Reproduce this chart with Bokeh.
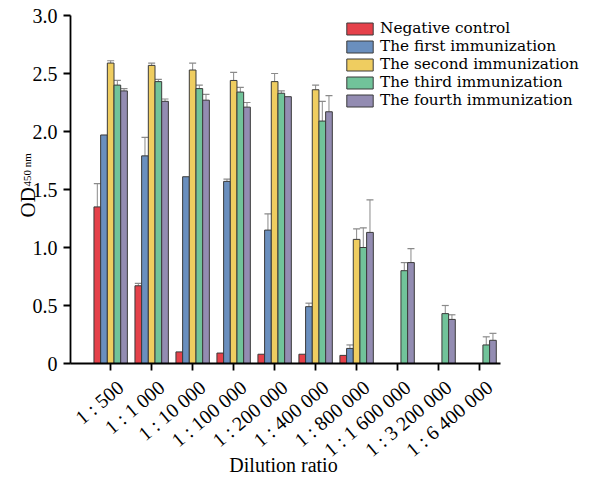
import math
import numpy as np
from bokeh.plotting import figure
from bokeh.models import (ColumnDataSource, Whisker, TeeHead, Legend, LegendItem,
                          Label, FixedTicker)
from bokeh.embed import file_html
from bokeh.resources import INLINE

# ---- data ----
dilutions = ["1 : 500", "1 : 1 000", "1 : 10 000", "1 : 100 000", "1 : 200 000",
             "1 : 400 000", "1 : 800 000", "1 : 1 600 000", "1 : 3 200 000", "1 : 6 400 000"]
series_names = ["Negative control", "The first immunization", "The second immunization",
                "The third immunization", "The fourth immunization"]
colors = ["#E5414A", "#6A8FBE", "#EFCD60", "#71C39A", "#938CB2"]

negative = [1.35, 0.67, 0.10, 0.09, 0.08, 0.08, 0.07, None, None, None]
first = [1.97, 1.79, 1.61, 1.57, 1.15, 0.49, 0.13, None, None, None]
second = [2.59, 2.57, 2.53, 2.44, 2.43, 2.36, 1.07, None, None, None]
third = [2.40, 2.43, 2.37, 2.34, 2.33, 2.09, 1.00, 0.80, 0.43, 0.16]
fourth = [2.35, 2.26, 2.27, 2.21, 2.30, 2.17, 1.13, 0.87, 0.38, 0.20]

negative_sd = [0.20, 0.02, None, None, None, None, None, None, None, None]
first_sd = [None, 0.16, None, 0.02, 0.14, 0.03, 0.03, None, None, None]
second_sd = [0.02, 0.02, 0.06, 0.07, 0.07, 0.04, 0.09, None, None, None]
third_sd = [0.04, 0.02, 0.03, 0.04, 0.02, 0.17, 0.17, 0.07, 0.07, 0.07]
fourth_sd = [0.02, 0.02, 0.05, 0.04, None, 0.14, 0.28, 0.12, 0.04, 0.06]

y_ticks = [0, 0.5, 1.0, 1.5, 2.0, 2.5, 3.0]
y_tick_labels = ["0", "0.5", "1.0", "1.5", "2.0", "2.5", "3.0"]

all_vals = [negative, first, second, third, fourth]
all_sd = [negative_sd, first_sd, second_sd, third_sd, fourth_sd]

FONT = "Liberation Serif"
LEGEND_FONT = "DejaVu Serif"
bar_w = 0.163
W, H = 594, 479
PX_X = 40.99      # pixels per category
PX_Y = 116.0      # pixels per OD unit
AX_X0 = -0.98     # data x where y axis sits
AX_X1 = 9.51      # end of x axis line
LEFT_PX, BOTTOM_PX = 70, 363

x_start = AX_X0 - LEFT_PX / PX_X
x_end = x_start + W / PX_X
y_start = -(H - BOTTOM_PX) / PX_Y
y_end = y_start + H / PX_Y

p = figure(width=W, height=H, output_backend="svg", toolbar_location=None,
           x_range=(x_start, x_end), y_range=(y_start, y_end),
           min_border_left=0, min_border_right=0, min_border_top=0, min_border_bottom=0)
p.outline_line_color = None
p.xgrid.visible = False
p.ygrid.visible = False
p.background_fill_color = "white"
p.border_fill_color = "white"

renderers = []
for k, (vals, sds) in enumerate(zip(all_vals, all_sd)):
    off = (k - 2) * bar_w
    xs = [i + off for i, v in enumerate(vals) if v is not None]
    ys = [v for v in vals if v is not None]
    src = ColumnDataSource(dict(x=xs, top=ys))
    r = p.vbar(x="x", top="top", width=bar_w, bottom=0, source=src,
               fill_color=colors[k], line_color="#3a3a3a", line_width=1)
    renderers.append(r)
    ex = [i + off for i, (v, s) in enumerate(zip(vals, sds)) if v is not None and s is not None]
    el = [v for v, s in zip(vals, sds) if v is not None and s is not None]
    eu = [v + s for v, s in zip(vals, sds) if v is not None and s is not None]
    esrc = ColumnDataSource(dict(base=ex, lower=el, upper=eu))
    w = Whisker(base="base", lower="lower", upper="upper", source=esrc, dimension="height",
                line_color="#8a8a8a", line_width=1,
                upper_head=TeeHead(size=7, line_color="#8a8a8a", line_width=1.2),
                lower_head=None)
    p.add_layout(w)

# legend: one entry per row, rows 18 px apart
for k, (name, r) in enumerate(zip(series_names, renderers)):
    lg = Legend(items=[LegendItem(label=name, renderers=[r])],
                location=(343, H - 37 - 18 * k), padding=0, margin=0,
                border_line_color=None, background_fill_alpha=0,
                glyph_width=33, glyph_height=15, label_height=15, spacing=0,
                label_standoff=4, label_text_font=LEGEND_FONT, label_text_font_size="15.3px",
                label_text_color="black")
    p.add_layout(lg, "center")

# axes at fixed positions
p.xaxis.fixed_location = 0
p.yaxis.fixed_location = AX_X0
p.xaxis.bounds = (AX_X0, AX_X1)
p.yaxis.bounds = (0, 3.0)
p.xaxis.ticker = FixedTicker(ticks=list(range(len(dilutions))))
p.xaxis.major_label_text_color = None
p.yaxis.ticker = FixedTicker(ticks=y_ticks)
p.yaxis.major_label_overrides = {t: l for t, l in zip(y_ticks, y_tick_labels)}
for ax in (p.xaxis, p.yaxis):
    ax.axis_line_width = 1.8
    ax.axis_line_color = "black"
    ax.major_tick_line_width = 1.8
    ax.major_tick_line_color = "black"
    ax.major_tick_out = 7
    ax.major_tick_in = 0
    ax.minor_tick_line_color = None
    ax.major_label_text_font = FONT
    ax.major_label_text_font_size = "20px"
p.yaxis.major_label_text_color = "black"
p.yaxis.major_label_standoff = 6

# rotated category labels, anchored at their right end below each tick
lab_src = ColumnDataSource(dict(x=list(range(len(dilutions))), y=[0] * len(dilutions),
                                text=dilutions))
p.text(x="x", y="y", text="text", source=lab_src, angle=40 * math.pi / 180,
       text_align="right", text_baseline="middle", x_offset=10, y_offset=21,
       text_font={"value": FONT}, text_font_size="20px", text_color="black")

# axis titles
p.add_layout(Label(x=27, y=H - 217, x_units="screen", y_units="screen", text="OD",
                   angle=math.pi / 2, text_align="left", text_baseline="alphabetic",
                   text_font=FONT, text_font_size="21px", text_color="black"))
p.add_layout(Label(x=26, y=H - 186, x_units="screen", y_units="screen", text="450 nm",
                   angle=math.pi / 2, text_align="left", text_baseline="alphabetic",
                   text_font=FONT, text_font_size="11px", text_color="black"))
p.add_layout(Label(x=283, y=H - 464, x_units="screen", y_units="screen", text="Dilution ratio",
                   text_align="center", text_baseline="middle",
                   text_font=FONT, text_font_size="20px", text_color="black"))

open("out.html", "w").write(file_html(p, INLINE))
